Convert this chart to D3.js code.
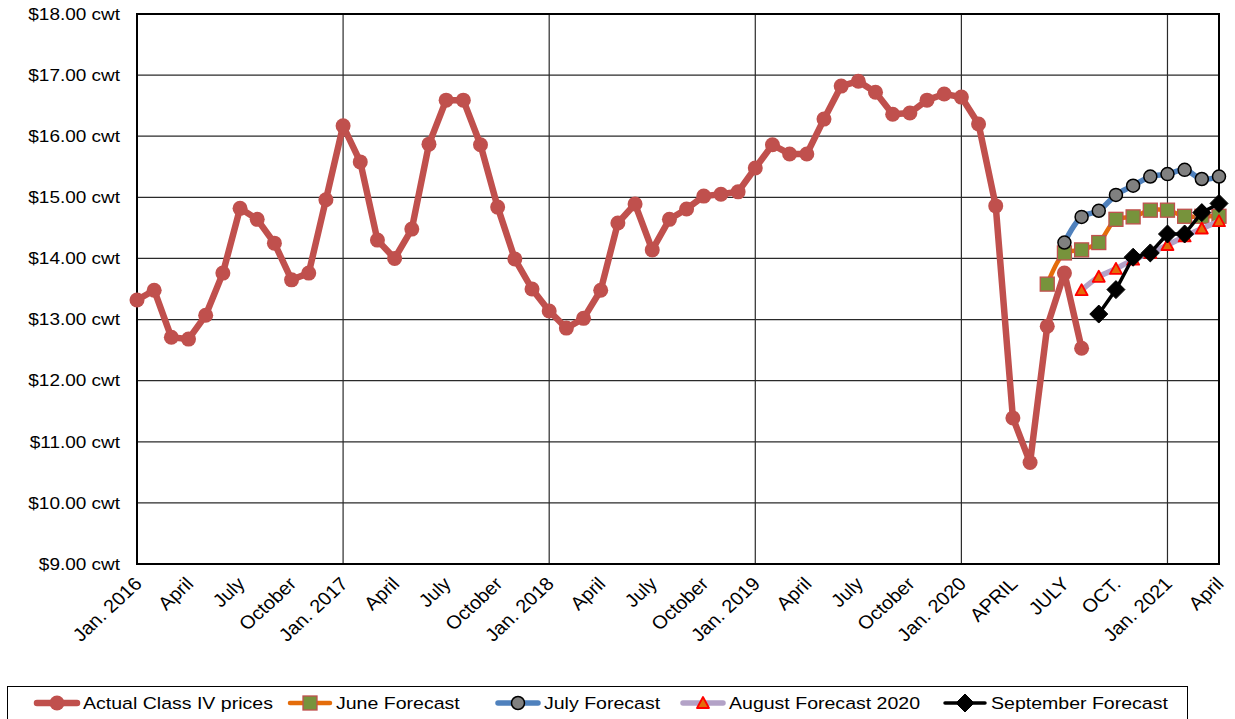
<!DOCTYPE html>
<html>
<head>
<meta charset="utf-8">
<script src="https://cdn.jsdelivr.net/npm/d3@7"></script>
<style>
  body { margin: 0; background: #fff; }
  text { font-family: "Liberation Sans", Arial, sans-serif; fill: #000; }
</style>
</head>
<body>
<script>
// months are counted from Jan. 2016 (= 0)
var tickLabels = ["Jan. 2016", "April", "July", "October",
  "Jan. 2017", "April", "July", "October",
  "Jan. 2018", "April", "July", "October",
  "Jan. 2019", "April", "July", "October",
  "Jan. 2020", "APRIL", "JULY", "OCT.",
  "Jan. 2021", "April"];

var actual = [13.32, 13.48, 12.71, 12.68, 13.07, 13.76, 14.82, 14.64, 14.25, 13.65, 13.76, 14.96,
  16.17, 15.58, 14.30, 14.00, 14.48, 15.87, 16.59, 16.59, 15.86, 14.84, 13.99, 13.50,
  13.14, 12.86, 13.02, 13.48, 14.58, 14.89, 14.14, 14.64, 14.81, 15.02, 15.05, 15.09,
  15.48, 15.86, 15.71, 15.71, 16.28, 16.82, 16.90, 16.72, 16.36, 16.38, 16.59, 16.69,
  16.64, 16.20, 14.86, 11.39, 10.66, 12.89, 13.76, 12.53];
var juneForecast = [13.58, 14.09, 14.14, 14.26, 14.64, 14.68, 14.79, 14.79, 14.69, 14.69, 14.69];
var julyForecast = [14.26, 14.68, 14.78, 15.04, 15.19, 15.34, 15.38, 15.45, 15.30, 15.34];
var augustForecast = [13.48, 13.70, 13.83, 13.98, 14.09, 14.22, 14.36, 14.49, 14.61];
var septemberForecast = [13.09, 13.49, 14.02, 14.09, 14.40, 14.40, 14.75, 14.90];

var juneStart = 53, julyStart = 54, augustStart = 55, septemberStart = 56;
var lastMonth = 63;

var width = 1235, height = 719;
var plotLeft = 137, plotRight = 1219, plotTop = 14, plotBottom = 564;
var stretch = "scale(1.15,1)"; // the reference's text is a little wider than it is tall

var svg = d3.select("body").append("svg")
  .attr("width", width)
  .attr("height", height);

var x = d3.scaleLinear().domain([0, lastMonth]).range([plotLeft, plotRight]);
var y = d3.scaleLinear().domain([9, 18]).range([plotBottom, plotTop]);

// gridlines
svg.append("g")
  .selectAll("line")
  .data(d3.range(10, 18))
  .enter().append("line")
    .attr("x1", plotLeft).attr("x2", plotRight)
    .attr("y1", function(d) { return y(d); })
    .attr("y2", function(d) { return y(d); })
    .attr("stroke", "#2a2a2a")
    .attr("stroke-width", 1.2);

svg.append("g")
  .selectAll("line")
  .data([12, 24, 36, 48, 60])
  .enter().append("line")
    .attr("x1", function(d) { return x(d); })
    .attr("x2", function(d) { return x(d); })
    .attr("y1", plotTop).attr("y2", plotBottom)
    .attr("stroke", "#2a2a2a")
    .attr("stroke-width", 1.2);

svg.append("rect")
  .attr("x", plotLeft).attr("y", plotTop)
  .attr("width", plotRight - plotLeft).attr("height", plotBottom - plotTop)
  .attr("fill", "none")
  .attr("stroke", "#000")
  .attr("stroke-width", 2);

// y labels
svg.append("g")
  .selectAll("text")
  .data(d3.range(9, 19))
  .enter().append("text")
    .attr("transform", function(d) { return "translate(120," + y(d) + ") " + stretch; })
    .attr("dy", "0.35em")
    .attr("text-anchor", "end")
    .style("font-size", "16.5px")
    .text(function(d) { return "$" + d.toFixed(2) + " cwt"; });

// x labels
svg.append("g")
  .selectAll("text")
  .data(tickLabels)
  .enter().append("text")
    .attr("text-anchor", "end")
    .style("font-size", "18.5px")
    .attr("transform", function(d, i) {
      return "translate(" + (x(i * 3) + 6) + "," + (plotBottom + 21) + ") scale(1.08,1) rotate(-45)";
    })
    .text(function(d) { return d; });

// series
function pts(values, start) {
  return values.map(function(v, i) { return { m: start + i, v: v }; });
}

var straight = d3.line()
  .x(function(d) { return x(d.m); })
  .y(function(d) { return y(d.v); });
var smooth = d3.line()
  .curve(d3.curveCatmullRom.alpha(0.5))
  .x(function(d) { return x(d.m); })
  .y(function(d) { return y(d.v); });

function marker(g, type, cx, cy) {
  if (type === "circle") {
    g.append("circle").attr("cx", cx).attr("cy", cy).attr("r", 7.5)
      .attr("fill", "#C0504D");
  } else if (type === "square") {
    g.append("rect").attr("x", cx - 7).attr("y", cy - 7).attr("width", 14).attr("height", 14)
      .attr("fill", "#77933C").attr("stroke", "#C0504D").attr("stroke-width", 1.3);
  } else if (type === "dot") {
    g.append("circle").attr("cx", cx).attr("cy", cy).attr("r", 6.5)
      .attr("fill", "#808080").attr("stroke", "#000").attr("stroke-width", 1.5);
  } else if (type === "triangle") {
    g.append("path")
      .attr("d", "M" + cx + "," + (cy - 6) + "L" + (cx + 6) + "," + (cy + 5) + "L" + (cx - 6) + "," + (cy + 5) + "Z")
      .attr("fill", "#E46C0A").attr("stroke", "#FF0000").attr("stroke-width", 1.8)
      .attr("stroke-linejoin", "round");
  } else if (type === "diamond") {
    g.append("path")
      .attr("d", "M" + cx + "," + (cy - 9) + "L" + (cx + 9) + "," + cy + "L" + cx + "," + (cy + 9) + "L" + (cx - 9) + "," + cy + "Z")
      .attr("fill", "#000").attr("stroke", "#000").attr("stroke-width", 1).attr("stroke-linejoin", "round");
  }
}

var series = [
  { name: "Actual Class IV prices", data: pts(actual, 0), line: straight, color: "#C0504D", w: 6.5, m: "circle" },
  { name: "June Forecast", data: pts(juneForecast, juneStart), line: smooth, color: "#E46C0A", w: 4.5, m: "square" },
  { name: "July Forecast", data: pts(julyForecast, julyStart), line: smooth, color: "#4F81BD", w: 5.5, m: "dot" },
  { name: "August Forecast 2020", data: pts(augustForecast, augustStart), line: smooth, color: "#B3A2C7", w: 5.5, m: "triangle" },
  { name: "September Forecast", data: pts(septemberForecast, septemberStart), line: straight, color: "#000000", w: 3.5, m: "diamond" }
];

series.forEach(function(s) {
  var g = svg.append("g");
  g.append("path")
    .datum(s.data)
    .attr("d", s.line)
    .attr("fill", "none")
    .attr("stroke", s.color)
    .attr("stroke-width", s.w)
    .attr("stroke-linejoin", "round")
    .attr("stroke-linecap", "round");
  s.data.forEach(function(d) { marker(g, s.m, x(d.m), y(d.v)); });
});

// legend
svg.append("rect")
  .attr("x", 7.5).attr("y", 686.5)
  .attr("width", 1180).attr("height", 33)
  .attr("fill", "#fff")
  .attr("stroke", "#000")
  .attr("stroke-width", 1);

var legendX = [57, 310, 518, 703, 965];
series.forEach(function(s, i) {
  var g = svg.append("g");
  var cx = legendX[i], cy = 703;
  g.append("line")
    .attr("x1", cx - 20).attr("x2", cx + 20)
    .attr("y1", cy).attr("y2", cy)
    .attr("stroke", s.color)
    .attr("stroke-width", s.w)
    .attr("stroke-linecap", "round");
  marker(g, s.m, cx, cy);
  g.append("text")
    .attr("transform", "translate(" + (cx + 26) + "," + cy + ") " + stretch)
    .attr("dy", "0.36em")
    .style("font-size", "17px")
    .text(s.name);
});
</script>
</body>
</html>
